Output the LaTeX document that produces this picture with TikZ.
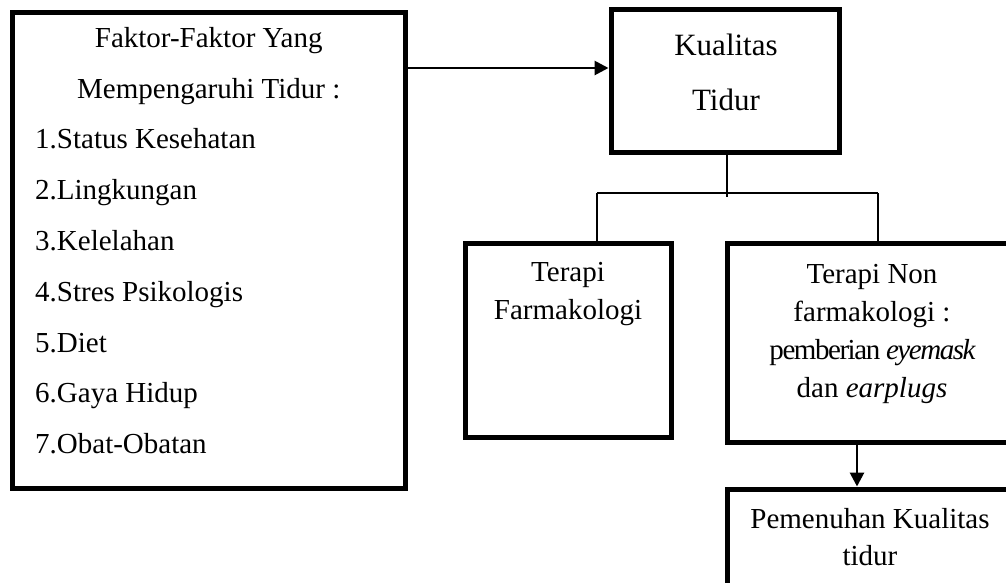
\documentclass[tikz,border=0pt]{standalone}
\usepackage{fontspec}
\setmainfont{Liberation Serif}
\newfontfamily\rapat[LetterSpace=-5]{Liberation Serif}
\usetikzlibrary{arrows.meta, calc}

\begin{document}
\begin{tikzpicture}[x=1pt, y=-1pt, >={Triangle[length=14pt, width=14pt]},
  kotak/.style={draw, line width=5pt, inner sep=0pt},
  garis/.style={line width=1.6pt},
  panah/.style={->, line width=2.8pt},
  teks/.style={font=\fontsize{29}{38}\selectfont, inner sep=0pt, align=center}]
  \useasboundingbox (0,0) rectangle (1006,582);
  \clip (0,0) rectangle (1006,582);
  % kotak-kotak
  \node[kotak, minimum width=392.5pt, minimum height=476pt] (faktor) at (208.75,250.5) {};
  \node[kotak, minimum width=228pt, minimum height=143pt] (kualitas) at (725,80.5) {};
  \node[kotak, minimum width=206pt, minimum height=194pt] (farmako) at (568,340) {};
  \node[kotak, minimum width=283pt, minimum height=199pt] (nonfarmako) at (868.5,342.5) {};
  \node[kotak, minimum width=283pt, minimum height=121pt] (pemenuhan) at (868.5,549.5) {};
  % teks faktor-faktor (base = baris terakhir)
  \node[teks, font=\fontsize{29}{51}\selectfont, anchor=base] (judul) at (208.75,98) {Faktor-Faktor Yang\\Mempengaruhi Tidur :};
  \foreach \isi [count=\i] in {Status Kesehatan, Lingkungan, Kelelahan, Stres Psikologis, Diet, Gaya Hidup, Obat-Obatan}
    \node[teks, anchor=base west] (faktor\i) at (35, 98+50.8*\i) {\i.\isi};
  % teks kotak lain
  \node[teks, font=\fontsize{31}{55}\selectfont, anchor=base] (judulkual) at (726,110) {Kualitas\\Tidur};
  \node[teks, font=\fontsize{29}{37.5}\selectfont, anchor=base] (teksfarmako) at (568,319) {Terapi\\Farmakologi};
  \node[teks, anchor=base] (teksnon) at (872,397) {Terapi Non\\farmakologi :\\{\rapat pemberian \textit{eyemask}}\\dan \textit{earplugs}};
  \node[teks, font=\fontsize{29}{37}\selectfont, anchor=base] (tekspenuh) at (870,565) {Pemenuhan Kualitas\\tidur};
  % penghubung
  \draw[panah] (faktor.east |- 0,68) -- (kualitas.west |- 0,68);
  \coordinate (cabang) at (727,197);
  \coordinate (kiri) at (597,193);
  \coordinate (kanan) at (878,193);
  \draw[garis] (cabang |- kualitas.south) -- (cabang);
  \draw[garis] (kiri) -- (kanan);
  \draw[garis] (kiri) -- (kiri |- farmako.north);
  \draw[garis] (kanan) -- (kanan |- nonfarmako.north);
  \draw[panah] (857,0 |- nonfarmako.south) -- (857,0 |- pemenuhan.north);
\end{tikzpicture}
\end{document}
